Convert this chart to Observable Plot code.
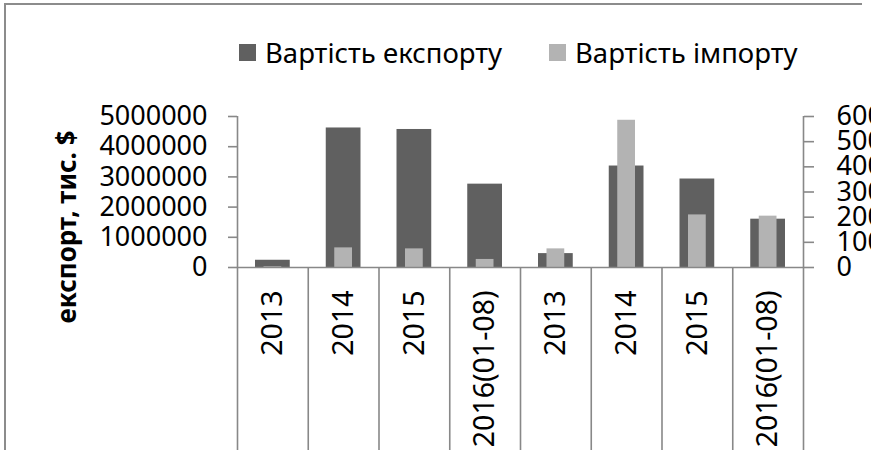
<!DOCTYPE html>
<html><head><meta charset="utf-8">
<script src="https://cdn.jsdelivr.net/npm/d3@7"></script>
<script src="https://cdn.jsdelivr.net/npm/@observablehq/plot@0.6"></script>
<style>
html,body{margin:0;padding:0;overflow:hidden;background:#fff;}
#wrap{position:relative;width:871px;height:450px;overflow:hidden;font-family:"Noto Sans",sans-serif;}
#border{position:absolute;left:4px;top:3px;width:856px;height:470px;border-top:2px solid #8c8c8c;border-left:2px solid #8c8c8c;}
.item{position:absolute;top:36px;height:32px;display:flex;align-items:center;font-size:27.5px;color:#000;white-space:nowrap;}
.sw{width:17px;height:17px;display:inline-block;margin-right:9px;}
#chart{position:absolute;left:0;top:0;}
#chart svg{overflow:hidden;}
</style></head><body>
<div id="wrap"><div id="border"></div><div id="chart"></div><div id="legend"></div></div>
<script>
const categories = ["2013","2014","2015","2016(01-08)","2013","2014","2015","2016(01-08)"];
const exportValues = [240000, 4620000, 4570000, 2760000, 460000, 3360000, 2930000, 1600000];
const importValues = [3000, 78000, 74000, 32000, 74000, 585000, 209000, 204000];
const leftTicks = [0, 1000000, 2000000, 3000000, 4000000, 5000000];
const rightTicks = [0, 100000, 200000, 300000, 400000, 500000, 600000];
const seriesNames = ["Вартість експорту", "Вартість імпорту"];
const seriesColors = ["#606060", "#b3b3b3"];
const yTitle = "експорт, тис. $";

const leftMax = leftTicks[leftTicks.length - 1];
const rightMax = rightTicks[rightTicks.length - 1];
const k = leftMax / rightMax;
const data = categories.map((c, i) => ({i, c, exp: exportValues[i], imp: importValues[i]}));
const axisColor = "#888888";

const chart = Plot.plot({
  width: 871, height: 450,
  marginLeft: 237, marginRight: 68, marginTop: 116, marginBottom: 183,
  style: {fontFamily: "Noto Sans", fontSize: "27px", color: "#000", background: "transparent"},
  x: {type: "linear", domain: [0, categories.length], axis: null},
  y: {domain: [0, leftMax], axis: null},
  marks: [
    Plot.rect(data, {x1: d => d.i, x2: d => d.i + 1, y1: 0, y2: "exp", fill: seriesColors[0], insetLeft: 18, insetRight: 18}),
    Plot.rect(data, {x1: d => d.i, x2: d => d.i + 1, y1: 0, y2: d => d.imp * k, fill: seriesColors[1], insetLeft: 26.5, insetRight: 26.5}),
    Plot.ruleY([0], {stroke: axisColor, strokeWidth: 1.6}),
    Plot.ruleX([0, categories.length], {stroke: axisColor, strokeWidth: 1.6}),
    Plot.axisY(leftTicks, {anchor: "left", label: null, tickSize: 9, tickPadding: 21, tickFormat: d => String(d), stroke: axisColor, strokeWidth: 1.6}),
    Plot.axisY(rightTicks.map(v => v * k), {anchor: "right", label: null, tickSize: 10, tickPadding: 23, tickFormat: v => String(Math.round(v / k)), stroke: axisColor, strokeWidth: 1.6}),
    Plot.axisX(d3.range(categories.length + 1), {anchor: "bottom", label: null, tickSize: 183, tickFormat: () => "", stroke: axisColor, strokeWidth: 1.6}),
    Plot.axisX(d3.range(categories.length).map(i => i + 0.5), {anchor: "bottom", label: null, tickSize: 0, tickPadding: 23, tickRotate: -90, fontSize: 28.5, tickFormat: v => categories[Math.floor(v)]}),
    Plot.text([yTitle], {text: d => d, frameAnchor: "left", rotate: -90, dx: -170, dy: 35, fontWeight: "bold", fontSize: 26, textAnchor: "middle", fill: "#000"})
  ]
});
document.getElementById("chart").appendChild(chart);

const legendLeft = [239, 549];
const legend = document.getElementById("legend");
seriesNames.forEach((name, j) => {
  const it = document.createElement("div");
  it.className = "item";
  it.style.left = legendLeft[j] + "px";
  const sw = document.createElement("span");
  sw.className = "sw";
  sw.style.background = seriesColors[j];
  it.appendChild(sw);
  it.appendChild(document.createTextNode(name));
  legend.appendChild(it);
});
</script>
</body></html>
